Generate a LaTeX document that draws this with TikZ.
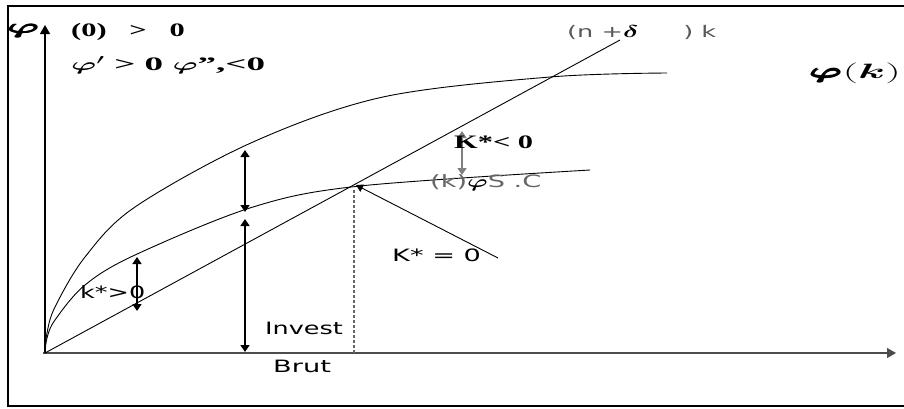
\documentclass[tikz,border=0pt]{standalone}
\usepackage{fontspec}
\setmainfont{Liberation Serif}
\setsansfont{DejaVu Sans}
\usepackage{amsmath}
\usepackage{bm}
\usepackage{graphicx}
\usetikzlibrary{arrows.meta}
\newcommand{\wide}[2][1.6]{\scalebox{#1}[1]{#2}}
\newcommand{\bphi}{\bm{\varphi}}

\begin{document}
\begin{tikzpicture}[x=1pt, y=-1pt,
  curve/.style={line width=0.9pt, line join=round},
  dbl/.style={{Triangle[width=9pt, length=7pt]}-{Triangle[width=9pt, length=7pt]}, line width=1.6pt},
  lab/.style={inner sep=0pt, anchor=west},
  bsf/.style={lab, font=\fontsize{19}{22}\selectfont\bfseries},
  ssf/.style={lab, font=\fontsize{17}{20}\selectfont\sffamily},
]
\useasboundingbox (0,0) rectangle (904,408);
% frame (open on the right)
\draw[line width=1.6pt] (904,6) -- (8,6) -- (8,406) -- (904,406);

% axes
\coordinate (O) at (45,353);
\coordinate (ytop) at (45,25);
\coordinate (xend) at (896,353);
\draw[line width=1.2pt, -{Triangle[width=10pt, length=9pt]}] (45,354) -- (ytop);
\draw[line width=1.2pt, black!70, -{Triangle[width=10pt, length=9pt]}] (43,353) -- (xend);

% phi(k)
\draw[curve] plot[smooth, tension=0.55] coordinates {
  (45,353) (47,333) (55,307) (85,257) (135,207) (253,142) (383,97) (550,77) (667,73)};
% s.phi(k)
\draw[curve] plot[smooth, tension=0.55] coordinates {
  (45,353) (47,338) (55,320) (85,285) (135,255) (253,207) (360,186) (590,170)};
% (n+delta) k
\coordinate (lend) at (620,40);
\draw[curve] (O) -- (lend);

% steady state
\coordinate (ss) at (356,185);
\coordinate (ssx) at (354,353);
\coordinate (kz) at (498,258);
\draw[line width=1.3pt, densely dashed, black!60] (354,190) -- (ssx);
\draw[curve, -{Triangle[width=8pt, length=7pt]}] (kz) -- (ss);

% arrows
\draw[dbl] (245,150) -- (245,212);
\draw[dbl] (245,219) -- (245,352);
\draw[dbl] (137,257) -- (137,311);
\draw[dbl, black!50] (462,131) -- (462,175);

% labels
\node[font=\fontsize{22}{24}\selectfont, inner sep=0pt] (phiy) at (24,31) {\wide[2]{$\pmb{\bphi}$}};
\node[bsf] (cond1) at (71,32) {\wide{(0)\enspace\ >\enspace\ 0}};
\node[bsf] (cond2) at (71,65) {\wide[1.95]{$\bphi'$ > 0 $\bphi$",<0}};
\node[lab, font=\fontsize{16}{18}\selectfont\sffamily, text=black!65] (lline) at (567,32)
  {\wide{(n +{\color{black}\fontsize{19}{20}\selectfont$\bm{\delta}$}\hspace{28pt}) k}};
\node[lab, font=\fontsize{22}{24}\selectfont] (lphik) at (810,73) {\wide[2.1]{$\pmb{\bphi}(\bm{k})$}};
\node[bsf] (kneg) at (454,142) {\wide{K*< 0}};
\node[lab, font=\fontsize{17}{20}\selectfont\sffamily, text=black!60] (lsc) at (430,183)
  {\wide{(k){\color{black}\fontsize{19}{20}\selectfont$\bphi$}S .C}};
\node[ssf] (kzero) at (392,255) {\wide{K* = 0}};
\node[ssf] (kpos) at (80,292) {\wide[1.5]{k*>0}};
\node[ssf] (inv) at (265,328) {\wide[1.5]{Invest}};
\node[ssf] (brut) at (273,366) {\wide{Brut}};
\end{tikzpicture}
\end{document}
